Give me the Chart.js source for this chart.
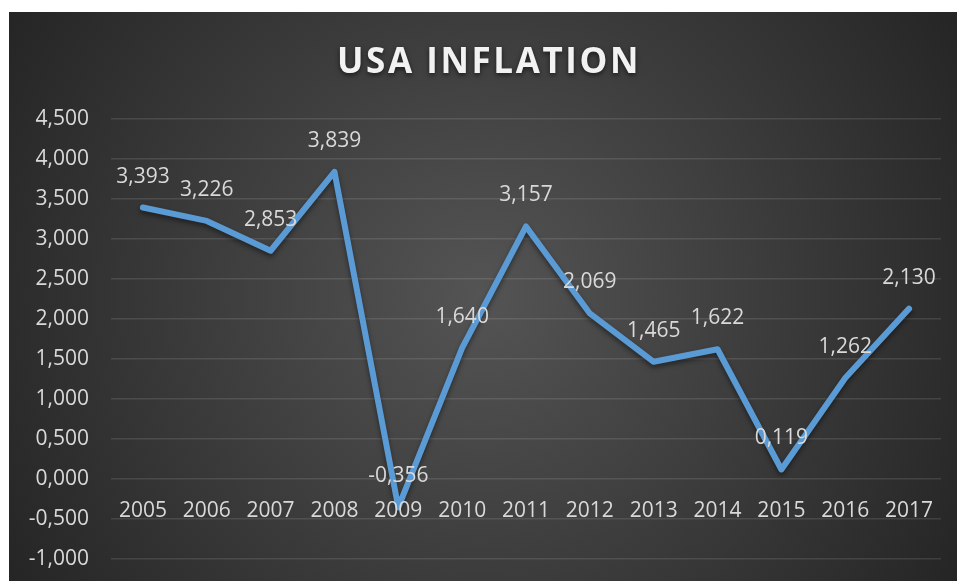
<!DOCTYPE html>
<html>
<head>
<meta charset="utf-8">
<script src="https://cdn.jsdelivr.net/npm/chart.js@4/dist/chart.umd.min.js"></script>
<style>
  html, body { margin: 0; padding: 0; background: #ffffff; overflow: hidden; }
  #c { position: absolute; left: 9px; top: 12px; }
</style>
</head>
<body>
<canvas id="c" width="948" height="569"></canvas>
<script>
// Annual US inflation rate, %
const years = ['2005','2006','2007','2008','2009','2010','2011','2012','2013','2014','2015','2016','2017'];
const inflation = [3.393, 3.226, 2.853, 3.839, -0.356, 1.640, 3.157, 2.069, 1.465, 1.622, 0.119, 1.262, 2.130];
const chartTitle = 'USA INFLATION';
const yMin = -1.0;
const yMax = 4.5;
const yStep = 0.5;

const FONT = '"Open Sans", "DejaVu Sans", sans-serif';
const TEXT = '#d9d9d9';

// Numbers use a comma as decimal separator, three decimals
const fmt = v => Number(v).toFixed(3).replace('.', ',');

// Dark radial background
const backgroundPlugin = {
  id: 'bg',
  beforeDraw(chart) {
    const { ctx, width, height } = chart;
    const cx = width * 0.5, cy = height * 0.5;
    const g = ctx.createRadialGradient(cx, cy, 0, cx, cy, Math.hypot(cx, cy));
    g.addColorStop(0, '#545454');
    g.addColorStop(1, '#252525');
    ctx.save();
    ctx.fillStyle = g;
    ctx.fillRect(0, 0, width, height);
    ctx.restore();
  }
};

// Bold spaced heading with a soft shadow
const titlePlugin = {
  id: 'heading',
  afterDraw(chart) {
    const { ctx, width } = chart;
    ctx.save();
    ctx.font = 'bold 35px ' + FONT;
    if ('letterSpacing' in ctx) ctx.letterSpacing = '2.6px';
    ctx.textAlign = 'center';
    ctx.textBaseline = 'alphabetic';
    ctx.shadowColor = 'rgba(0,0,0,0.6)';
    ctx.shadowBlur = 5;
    ctx.shadowOffsetY = 2;
    ctx.fillStyle = '#f2f2f2';
    ctx.fillText(chartTitle, width / 2 + 6, 61);
    ctx.restore();
  }
};

// Year labels sit just under the zero line, like a crossing category axis
const categoryLabelPlugin = {
  id: 'categoryLabels',
  afterDatasetsDraw(chart) {
    const { ctx, scales } = chart;
    const y0 = scales.y.getPixelForValue(0);
    ctx.save();
    ctx.font = '21px ' + FONT;
    ctx.fillStyle = TEXT;
    ctx.textAlign = 'center';
    ctx.textBaseline = 'alphabetic';
    scales.x.ticks.forEach((t, i) => {
      ctx.fillText(chart.data.labels[t.value], scales.x.getPixelForTick(i), y0 + 38);
    });
    ctx.restore();
  }
};

// Shadow under the line
const lineShadowPlugin = {
  id: 'lineShadow',
  beforeDatasetDraw(chart) {
    const ctx = chart.ctx;
    ctx.save();
    ctx.shadowColor = 'rgba(0,0,0,0.45)';
    ctx.shadowBlur = 5;
    ctx.shadowOffsetY = 3;
  },
  afterDatasetDraw(chart) {
    chart.ctx.restore();
  }
};

// Value labels centred above each point
const valueLabelPlugin = {
  id: 'valueLabels',
  afterDatasetsDraw(chart) {
    const { ctx } = chart;
    const meta = chart.getDatasetMeta(0);
    const data = chart.data.datasets[0].data;
    ctx.save();
    ctx.font = '21px ' + FONT;
    ctx.fillStyle = TEXT;
    ctx.textAlign = 'center';
    ctx.textBaseline = 'alphabetic';
    meta.data.forEach((pt, i) => {
      ctx.fillText(fmt(data[i]), pt.x, pt.y - 25);
    });
    ctx.restore();
  }
};

new Chart(document.getElementById('c'), {
  type: 'line',
  data: {
    labels: years,
    datasets: [{
      data: inflation,
      borderColor: '#5b9bd5',
      borderWidth: 6,
      borderJoinStyle: 'round',
      borderCapStyle: 'round',
      pointRadius: 0,
      tension: 0,
      fill: false
    }]
  },
  options: {
    responsive: false,
    animation: false,
    layout: { padding: { top: 107, right: 16, bottom: 22, left: 0 } },
    plugins: {
      legend: { display: false },
      title: { display: false },
      tooltip: { enabled: false }
    },
    scales: {
      x: {
        type: 'category',
        display: false,
        offset: true,
        ticks: { autoSkip: false }
      },
      y: {
        min: yMin,
        max: yMax,
        grid: { color: 'rgba(255,255,255,0.11)', lineWidth: 1.5, drawTicks: false },
        border: { display: false },
        afterFit(scale) {
          // fixed axis width; the outer padding already leaves room for the end labels
          scale.width = 102;
          scale.paddingTop = 0;
          scale.paddingBottom = 0;
        },
        ticks: {
          stepSize: yStep,
          color: TEXT,
          font: { family: FONT, size: 21 },
          padding: 22,
          callback: v => fmt(v)
        }
      }
    }
  },
  plugins: [backgroundPlugin, lineShadowPlugin, categoryLabelPlugin, valueLabelPlugin, titlePlugin]
});
</script>
</body>
</html>
